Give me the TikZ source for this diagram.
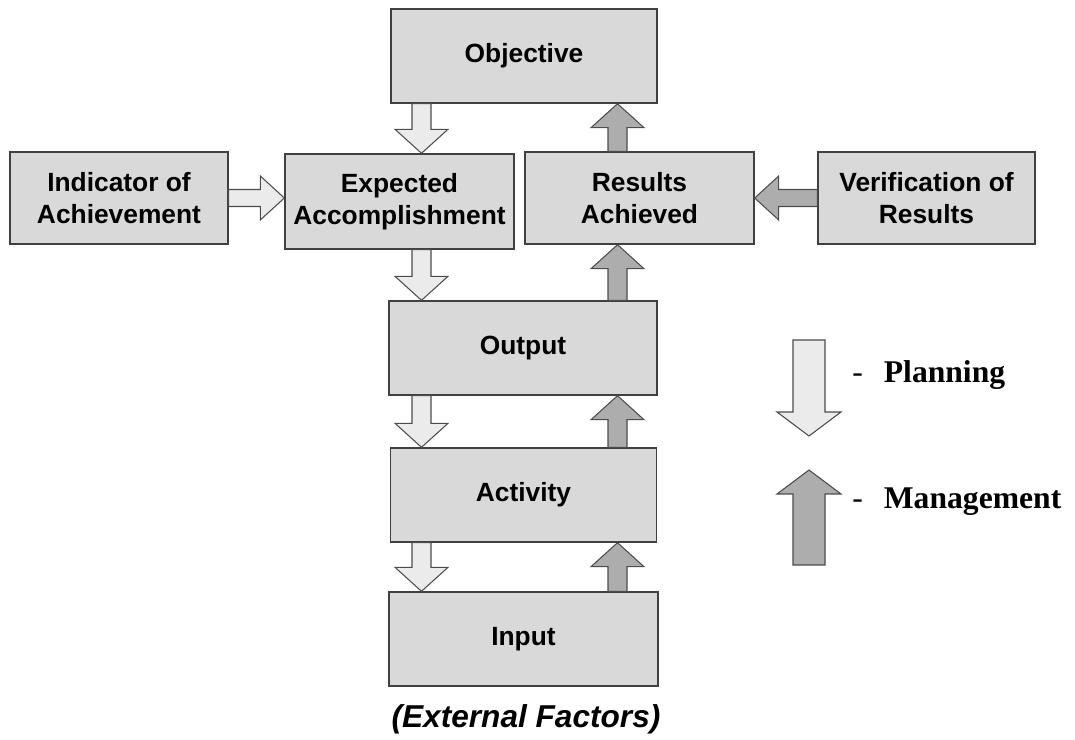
\documentclass[tikz,border=0pt]{standalone}
\usepackage{fontspec}
\setmainfont{Liberation Sans}
\newfontfamily\timesfont{Liberation Serif}
\usetikzlibrary{calc}
\tikzset{
  arrshaft/.store in=\blksh, arrhead/.store in=\blkhw, arrlen/.store in=\blkhd,
  arrshaft=0.19cm, arrhead=0.53cm, arrlen=0.48cm,
  blk/.style={to path={
    ($(\tikztotarget)!\blkhd!(\tikztostart)$) coordinate (blkH)
    ($(\tikztostart)!\blksh!90:(\tikztotarget)$)
    -- ($(blkH)!\blksh!-90:(\tikztostart)$)
    -- ($(blkH)!\blkhw!-90:(\tikztostart)$)
    -- (\tikztotarget)
    -- ($(blkH)!\blkhw!90:(\tikztostart)$)
    -- ($(blkH)!\blksh!90:(\tikztostart)$)
    -- ($(\tikztostart)!\blksh!-90:(\tikztotarget)$)
    -- cycle}},
  box/.style={draw=black!75, line width=0.8pt, fill=black!15, align=center,
    inner sep=2pt, font=\fontsize{15}{18}\selectfont\bfseries},
  plan/.style={blk, draw=black!70, line width=0.6pt, fill=black!8},
  mgmt/.style={blk, draw=black!70, line width=0.6pt, fill=black!32},
  legtext/.style={anchor=west, inner sep=0pt, font=\timesfont\fontsize{18}{21}\selectfont}
}
\begin{document}
\begin{tikzpicture}[x=0.02cm, y=-0.02cm]
\useasboundingbox (0,0) rectangle (1075,740);
\node[box, minimum width=5.32cm, minimum height=1.88cm] (obj) at (524,56) {Objective};
\node[box, minimum width=4.36cm, minimum height=1.84cm] (ind) at (119,198) {Indicator of\\Achievement};
\node[box, minimum width=4.58cm, minimum height=1.9cm] (exp) at (399.5,201.5) {Expected\\Accomplishment};
\node[box, minimum width=4.58cm, minimum height=1.84cm] (res) at (639.5,198) {Results\\Achieved};
\node[box, minimum width=4.34cm, minimum height=1.84cm] (ver) at (926.5,198) {Verification of\\Results};
\node[box, minimum width=5.36cm, minimum height=1.88cm] (out) at (523,348) {Output};
\node[box, minimum width=5.32cm, minimum height=1.88cm] (act) at (523.5,495) {Activity};
\node[box, minimum width=5.38cm, minimum height=1.88cm] (inp) at (523.5,639) {Input};
\node[font=\fontsize{18}{21}\selectfont\bfseries\itshape] (ext) at (526,719) {(External Factors)};
\coordinate (pl) at (421.5,0);
\coordinate (mg) at (617.5,0);
\draw[plan] (obj.south -| pl) to (exp.north -| pl);
\draw[plan] (exp.south -| pl) to (out.north -| pl);
\draw[plan] (out.south -| pl) to (act.north -| pl);
\draw[plan] (act.south -| pl) to (inp.north -| pl);
\draw[mgmt] (res.north -| mg) to (obj.south -| mg);
\draw[mgmt] (out.north -| mg) to (res.south -| mg);
\draw[mgmt] (act.north -| mg) to (out.south -| mg);
\draw[mgmt] (inp.north -| mg) to (act.south -| mg);
\draw[plan, arrshaft=0.17cm, arrhead=0.44cm] (ind.east) to (ind.east -| exp.west);
\draw[mgmt, arrshaft=0.17cm, arrhead=0.44cm] (ver.west) to (ver.west -| res.east);
\coordinate (ptop) at (809,340);
\coordinate (pbot) at (809,436);
\coordinate (mtop) at (809,470);
\coordinate (mbot) at (809,565);
\draw[plan, arrshaft=0.32cm, arrhead=0.64cm] (ptop) to (pbot);
\draw[mgmt, arrshaft=0.32cm, arrhead=0.64cm] (mbot) to (mtop);
\node[legtext] (plabel) at (852,375) {-\hspace{0.42cm}\textbf{Planning}};
\node[legtext] (mlabel) at (852,502) {-\hspace{0.42cm}\textbf{Management}};
\end{tikzpicture}
\end{document}
